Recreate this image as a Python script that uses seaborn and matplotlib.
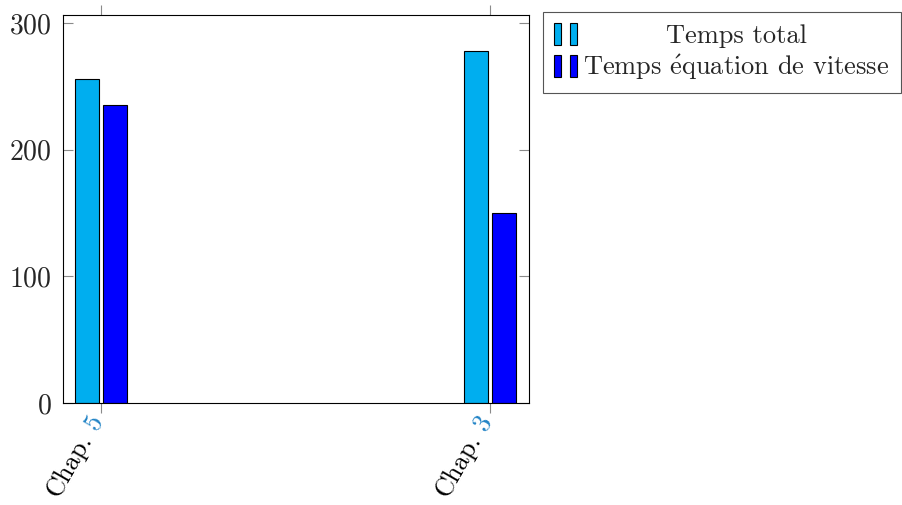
import matplotlib
matplotlib.use("Agg")
import matplotlib.pyplot as plt
import matplotlib.transforms as mtransforms
from matplotlib.patches import Rectangle
from matplotlib.legend_handler import HandlerTuple
import pandas as pd
import seaborn as sns

# Data
chapitres = ["Chap. 5", "Chap. 3"]
numeros = ["5", "3"]
series = ["Temps total", r"Temps $\mathrm{\acute{e}}$quation de vitesse"]
temps_total = [256, 278]
temps_vitesse = [235, 150]
couleurs = ["#00AEEF", "#0000FF"]
couleur_ref = "#2284C6"

df = pd.DataFrame({
    "chapitre": chapitres * 2,
    "serie": [series[0]] * len(chapitres) + [series[1]] * len(chapitres),
    "temps": temps_total + temps_vitesse,
})

sns.set_style("white")
plt.rcParams["font.family"] = ["cmr10", "DejaVu Serif"]
plt.rcParams["mathtext.fontset"] = "cm"
plt.rcParams["axes.formatter.use_mathtext"] = True
plt.rcParams["font.size"] = 20
taille = 20
taille_x = 19

fig = plt.figure(figsize=(9.03, 5.05), dpi=100)
ax = fig.add_axes([63 / 903, 1 - 403 / 505, 466 / 903, 388 / 505])

sns.barplot(data=df, x="chapitre", y="temps", hue="serie", order=chapitres,
            hue_order=series, palette=couleurs, width=0.147, gap=0.15,
            edgecolor="black", linewidth=0.8, saturation=1, ax=ax, legend=False)

ax.set_xlim(-0.0977, 1.1003)
ax.set_ylim(0, 306.3)
ax.set_yticks([0, 100, 200, 300])
ax.set_xticks(range(len(chapitres)))
ax.set_xticklabels([])
ax.set_xlabel("")
ax.set_ylabel("")

for side in ["left", "right", "top", "bottom"]:
    ax.spines[side].set_visible(True)
    ax.spines[side].set_color("black")
    ax.spines[side].set_linewidth(0.8)

ax.tick_params(axis="y", direction="in", length=7, width=0.8, color="#8a8a8a",
               left=True, right=True, labelsize=taille, pad=8)
ax.tick_params(axis="x", direction="out", length=7, width=0.8, color="#8a8a8a",
               top=True, bottom=True, labelbottom=False)

# x tick labels: "Chap." in black, the number in link colour, rotated 60 deg
base = mtransforms.blended_transform_factory(ax.transData, ax.transAxes)
for i, (chap, num) in enumerate(zip(chapitres, numeros)):
    t_num = mtransforms.offset_copy(base, fig=fig, x=-2.5, y=-10, units="points")
    ax.text(i, 0, num, transform=t_num, rotation=60, rotation_mode="anchor",
            ha="right", va="center", color=couleur_ref, fontsize=taille_x)
    t_chap = mtransforms.offset_copy(base, fig=fig, x=-2.5 - 7.6, y=-10 - 13.2,
                                     units="points")
    ax.text(i, 0, chap.replace(" " + num, ""), transform=t_chap, rotation=60,
            rotation_mode="anchor", ha="right", va="center", color="black",
            fontsize=taille_x)

# legend with two small bars per entry, pgfplots style
handles = [(Rectangle((0, 0), 1, 1, fc=c, ec="black", lw=0.8),
            Rectangle((0, 0), 1, 1, fc=c, ec="black", lw=0.8)) for c in couleurs]
leg = fig.legend(handles, series, handler_map={tuple: HandlerTuple(ndivide=None, pad=0.35)},
                 loc="upper left", bbox_to_anchor=(543 / 903, 1 - 12 / 505),
                 frameon=True, fancybox=False, edgecolor="#555555", framealpha=1,
                 borderpad=0.42, labelspacing=0.18, handlelength=0.85, handleheight=0.88,
                 handletextpad=0.25, borderaxespad=0, fontsize=19)
leg.get_frame().set_linewidth(0.8)

# center the legend labels like pgfplots does
fig.canvas.draw()
textes = leg.get_texts()
largeurs = [t.get_window_extent().width for t in textes]
for t, w in zip(textes, largeurs):
    t.set_x((max(largeurs) - w) / 2)

fig.savefig("out.png", dpi=100)
